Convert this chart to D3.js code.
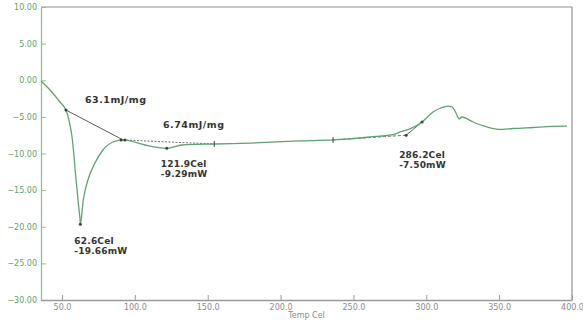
<!DOCTYPE html>
<html>
<head>
<meta charset="utf-8">
<script src="https://cdn.jsdelivr.net/npm/d3@7"></script>
<style>
  html, body { margin: 0; padding: 0; background: #fff; }
  svg { display: block; }
</style>
</head>
<body>
<svg id="chart" width="583" height="322"></svg>
<script>
// DSC heat-flow trace: temperature (Cel) vs heat flow (mW)
const temps = [35.6, 41.8, 48.6, 52.7, 53.9, 55.5, 56.9, 58.0, 58.9, 60.1, 61.2, 62.4, 62.6,
  64.6, 67.8, 72.6, 78.1, 85.0, 91.9, 94.6, 107.0, 121.9, 132.4, 155.0, 179.0, 213.3,
  236.0, 261.4, 278.5, 282.0, 288.8, 297.1, 304.6, 310.0, 315.0, 317.7, 320.4, 322.5,
  324.5, 332.1, 341.7, 350.6, 359.5, 373.2, 386.9, 396.6];
const heatFlow = [-0.10, -1.33, -2.97, -4.06, -4.74, -6.11, -7.75, -9.80, -11.98, -14.44, -16.76, -19.08, -19.66,
  -16.35, -13.62, -11.30, -9.52, -8.43, -8.15, -8.20, -8.84, -9.29, -8.84, -8.70, -8.57, -8.29,
  -8.15, -7.75, -7.34, -7.06, -6.65, -5.70, -4.33, -3.79, -3.52, -3.65, -4.47, -5.29,
  -5.02, -5.70, -6.38, -6.72, -6.59, -6.45, -6.31, -6.25];

// integration baselines
const baselineSolid1 = [[52.7, -4.06], [91.9, -8.15]];
const baselineDotted = [[91.9, -8.15], [154.5, -8.70]];
const baselineDashed = [[236.0, -8.15], [286.2, -7.50]];
const baselineSolid2 = [[286.2, -7.50], [297.1, -5.70]];

// analysis points
const peakPoints = [[62.6, -19.66], [121.9, -9.29], [286.2, -7.50]];
const limitPoints = [[52.7, -4.06], [90.6, -8.15], [93.2, -8.15], [297.1, -5.70]];
const tickPoints = [[154.5, -8.70], [236.0, -8.15]];

const enthalpyLabels = ["63.1mJ/mg", "6.74mJ/mg"];
const enthalpyAt = [[65.8, -3.1], [119.3, -6.5]];

const xTicks = [50, 100, 150, 200, 250, 300, 350, 400];
const yTicks = [-30, -25, -20, -15, -10, -5, 0, 5, 10];
const xTitle = "Temp Cel";

const svg = d3.select("#chart");
const L = 41, R = 572, T = 7, B = 300;

const x = d3.scaleLinear().domain([35.6, 400]).range([L, R]);
const y = d3.scaleLinear().domain([-30, 10]).range([B, T]);

// frame
svg.append("line").attr("x1", L).attr("x2", R).attr("y1", T).attr("y2", T)
  .attr("stroke", "#b4b4b4").attr("stroke-width", 1.3);
svg.append("line").attr("x1", R).attr("x2", R).attr("y1", T).attr("y2", B)
  .attr("stroke", "#9a9a9a").attr("stroke-width", 1.3);

// y axis (green)
const yAxis = d3.axisLeft(y).tickValues(yTicks).tickFormat(d3.format(".2f"))
  .tickSizeInner(-5).tickSizeOuter(0).tickPadding(4);
const gy = svg.append("g").attr("transform", `translate(${L},0)`).call(yAxis);
gy.select(".domain").attr("stroke", "#8fbf95").attr("stroke-width", 1.3);
gy.selectAll(".tick line").attr("stroke", "#8fbf95");
gy.selectAll(".tick text").attr("fill", "#5f9f6a")
  .style("font-family", "DejaVu Sans").style("font-size", "8px").attr("x", -4);

// x axis (gray)
const xAxis = d3.axisBottom(x).tickValues(xTicks).tickFormat(d3.format(".1f"))
  .tickSizeInner(-5).tickSizeOuter(0).tickPadding(6);
const gx = svg.append("g").attr("transform", `translate(0,${B})`).call(xAxis);
gx.select(".domain").attr("stroke", "#9a9a9a").attr("stroke-width", 1.3);
gx.selectAll(".tick line").attr("stroke", "#9a9a9a");
gx.selectAll(".tick text").attr("fill", "#8a8a8a")
  .style("font-family", "DejaVu Sans").style("font-size", "8px").attr("y", 4);

svg.append("text").attr("x", (L + R) / 2).attr("y", 318).attr("text-anchor", "middle")
  .attr("fill", "#8a8a8a").style("font-family", "DejaVu Sans").style("font-size", "8px")
  .text(xTitle);

// baselines
const seg = d3.line().x(d => x(d[0])).y(d => y(d[1]));
svg.append("path").attr("d", seg(baselineSolid1)).attr("fill", "none")
  .attr("stroke", "#5a5a5a").attr("stroke-width", 1);
svg.append("path").attr("d", seg(baselineDotted)).attr("fill", "none")
  .attr("stroke", "#707070").attr("stroke-width", 1).attr("stroke-dasharray", "2,1.5");
svg.append("path").attr("d", seg(baselineDashed)).attr("fill", "none")
  .attr("stroke", "#707070").attr("stroke-width", 1).attr("stroke-dasharray", "3,2");
svg.append("path").attr("d", seg(baselineSolid2)).attr("fill", "none")
  .attr("stroke", "#606060").attr("stroke-width", 1);

// heat-flow curve
const curveData = temps.map((t, i) => [t, heatFlow[i]]);
const line = d3.line().x(d => x(d[0])).y(d => y(d[1])).curve(d3.curveMonotoneX);
svg.append("path").attr("d", line(curveData)).attr("fill", "none")
  .attr("stroke", "#62a171").attr("stroke-width", 1.3).attr("stroke-linejoin", "round");

// markers
svg.selectAll(".pk").data(peakPoints.concat(limitPoints)).join("circle")
  .attr("cx", d => x(d[0])).attr("cy", d => y(d[1])).attr("r", 1.5).attr("fill", "#404040");
svg.selectAll(".tk").data(tickPoints).join("line")
  .attr("x1", d => x(d[0])).attr("x2", d => x(d[0]))
  .attr("y1", d => y(d[1]) - 3).attr("y2", d => y(d[1]) + 3)
  .attr("stroke", "#404040").attr("stroke-width", 1);

// annotations
const labelFont = g => g.attr("fill", "#333").style("font-family", "DejaVu Sans")
  .style("font-weight", "bold");
enthalpyLabels.forEach((s, i) => {
  svg.append("text").attr("x", x(enthalpyAt[i][0])).attr("y", y(enthalpyAt[i][1]))
    .call(labelFont).style("font-size", "9.5px").style("letter-spacing", "0.5px").text(s);
});
const peakOffsets = [[-6, 20], [-6, 19], [-7, 23]];
peakPoints.forEach((p, i) => {
  const lx = x(p[0]) + peakOffsets[i][0], ly = y(p[1]) + peakOffsets[i][1];
  svg.append("text").attr("x", lx).attr("y", ly).call(labelFont)
    .style("font-size", "9px").style("letter-spacing", "0.2px").text(p[0].toFixed(1) + "Cel");
  svg.append("text").attr("x", lx).attr("y", ly + 9.5).call(labelFont)
    .style("font-size", "9px").style("letter-spacing", "0.2px").text(p[1].toFixed(2) + "mW");
});
</script>
</body>
</html>
